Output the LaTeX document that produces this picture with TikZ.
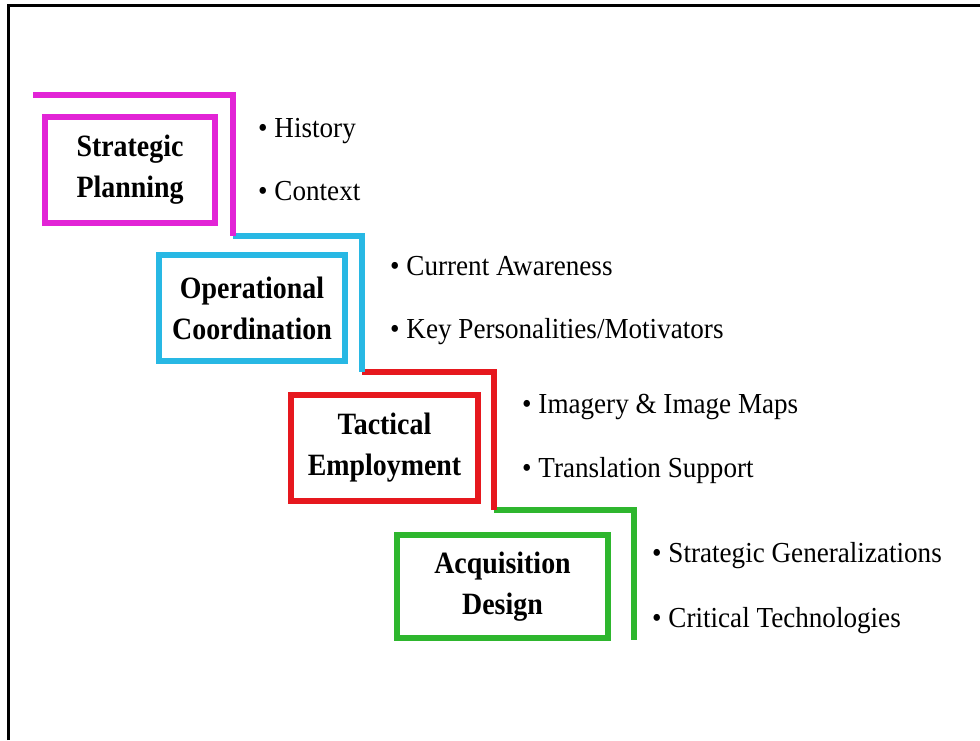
\documentclass[tikz,border=0pt]{standalone}
\usepackage{fontspec}
\setmainfont{Liberation Serif}
\newfontfamily\boxfont{Liberation Serif}[FakeStretch=0.9]
\newfontfamily\itemfont{Liberation Serif}[FakeStretch=0.935]
\usetikzlibrary{positioning}
\definecolor{stepmag}{RGB}{226,36,214}
\definecolor{stepcyan}{RGB}{40,184,228}
\definecolor{stepred}{RGB}{230,24,30}
\definecolor{stepgreen}{RGB}{46,182,46}
\begin{document}
\begin{tikzpicture}
    [x=1pt, y=-1pt,
     level/.style={draw, line width=6pt, align=center, inner sep=0pt,
       minimum height=106pt, font=\boxfont\fontsize{31}{41}\selectfont\bfseries},
     item/.style={inner sep=0pt, anchor=base west, font=\itemfont\fontsize{29}{34}\selectfont},
     stair/.style={line width=6pt}]
    \useasboundingbox (0,0) rectangle (980,740);
    \draw[line width=3pt] (8,740) -- (8,5) -- (980,5);

    \coordinate (s0) at (33,95);
    \coordinate (s1) at (233,236);
    \coordinate (s2) at (362,372);
    \coordinate (s3) at (494,510);
    \coordinate (s4) at (634,640);

    \node (sp) [level, draw=stepmag, minimum width=170pt] at (130,170) {Strategic\\Planning};
    \node (oc) [level, draw=stepcyan, minimum width=186pt] at (252,308) {Operational\\Coordination};
    \node (te) [level, draw=stepred, minimum width=187pt] at (384.5,447.5) {Tactical\\Employment};
    \node (ad) [level, draw=stepgreen, minimum width=211pt, minimum height=103pt] at (502.5,586.5) {Acquisition\\Design};

    \node (sp1) [item] at (258,137) {• History};
    \node (sp2) [item, below=63pt of sp1.base west, anchor=base west] {• Context};
    \node (oc1) [item] at (390,275) {• Current Awareness};
    \node (oc2) [item, below=63pt of oc1.base west, anchor=base west] {• Key Personalities/Motivators};
    \node (te1) [item] at (522,413) {• Imagery \& Image Maps};
    \node (te2) [item, below=64pt of te1.base west, anchor=base west] {• Translation Support};
    \node (ad1) [item] at (652,562) {• Strategic Generalizations};
    \node (ad2) [item, below=65pt of ad1.base west, anchor=base west] {• Critical Technologies};

    \draw[stair, stepgreen] (s3) -| (s4);
    \draw[stair, stepred] (s2) -| (s3);
    \draw[stair, stepcyan] (s1) -| (s2);
    \draw[stair, stepmag] (s0) -| (s1);
\end{tikzpicture}
\end{document}
